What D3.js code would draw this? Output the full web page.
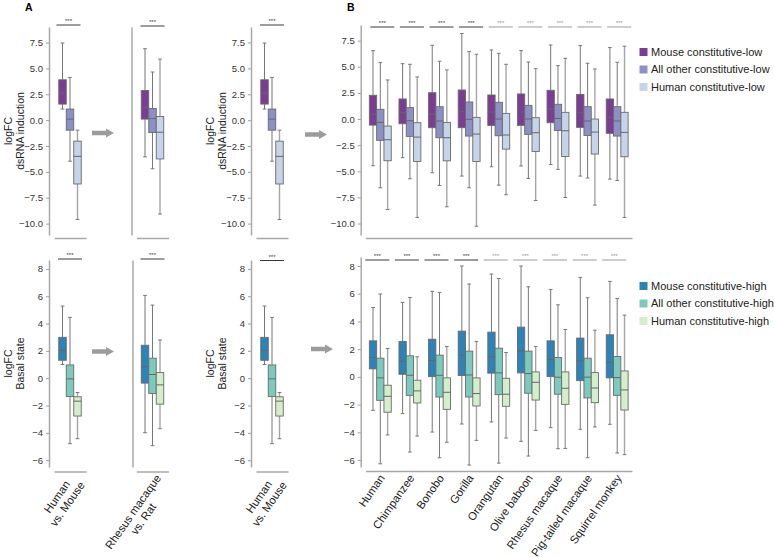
<!DOCTYPE html>
<html><head><meta charset="utf-8">
<script src="https://cdn.jsdelivr.net/npm/d3@7"></script>
<style>
body{margin:0;background:#fff;}
svg{font-family:"Liberation Sans",Arial,sans-serif;}
</style></head>
<body><svg id="c" width="774" height="557"></svg>
<script>
// ---------------- data ----------------
const hueLow = ["Mouse constitutive-low", "All other constitutive-low", "Human constitutive-low"];
const hueHigh = ["Mouse constitutive-high", "All other constitutive-high", "Human constitutive-high"];
const colorsLow = ["#7c3c94", "#8d90c4", "#c5d4e8"];
const colorsHigh = ["#2d82b7", "#7ccabd", "#d4eecb"];
const pairA1 = ["Human\nvs. Mouse"];
const pairA2 = ["Rhesus macaque\nvs. Rat"];
const speciesB = ["Human", "Chimpanzee", "Bonobo", "Gorilla", "Orangutan", "Olive baboon", "Rhesus macaque", "Pig-tailed macaque", "Squirrel monkey"];
const ticksTop = [7.5, 5.0, 2.5, 0.0, -2.5, -5.0, -7.5, -10.0];
const ticksBottom = [8, 6, 4, 2, 0, -2, -4, -6];
const sigLabel = "***";

// box stats: [lower whisker, q1, median, q3, upper whisker]
const dsHumanMouse = [[[1.07, 1.55, 2.6, 3.9, 7.45], [-3.97, -0.97, 0.1, 1.07, 4.13], [-9.6, -6.17, -3.5, -2.03, -0.97]]];
const dsRhesusRat = [[[-3.55, 0.1, 1.2, 2.87, 6.9], [-4.7, -1.2, 0.15, 1.12, 4.65], [-9.08, -3.75, -1.17, 0.35, 5.9]]];
const dsSpecies = [
  [[-4.47, -0.58, 0.45, 2.27, 6.55], [-6.58, -2.04, -0.32, 0.93, 5.4], [-8.66, -3.99, -1.98, -0.67, 3.74]],
  [[-3.7, -0.45, 0.6, 1.92, 5.3], [-5.72, -1.66, -0.16, 1.09, 5.24], [-9.42, -4.06, -1.73, -0.35, 4.03]],
  [[-5.14, -0.83, 0.45, 2.52, 7.06], [-6.36, -1.79, -0.19, 1.18, 5.53], [-8.4, -4.0, -1.79, -0.32, 4.7]],
  [[-5.46, -0.83, 0.7, 2.78, 8.18], [-6.58, -1.63, -0.03, 1.63, 6.45], [-10.26, -4.06, -1.44, 0.16, 6.2]],
  [[-4.57, -0.61, 0.67, 2.3, 6.61], [-6.33, -1.6, 0.0, 1.6, 6.29], [-7.25, -2.88, -1.53, 0.54, 5.24]],
  [[-4.5, -0.61, 0.67, 2.4, 6.55], [-5.69, -1.47, 0.0, 1.31, 5.46], [-7.8, -3.1, -1.31, 0.13, 4.82]],
  [[-4.35, -0.35, 0.96, 2.75, 7.09], [-4.82, -1.09, 0.06, 1.41, 5.11], [-7.51, -3.58, -1.12, 0.64, 5.81]],
  [[-5.46, -0.8, 0.6, 2.36, 7.03], [-5.65, -1.57, -0.19, 1.18, 5.34], [-8.24, -3.35, -1.25, 0.0, 4.79]],
  [[-5.75, -1.37, 0.16, 1.92, 6.84], [-5.88, -1.63, -0.19, 1.18, 5.43], [-9.42, -3.61, -1.28, 0.64, 6.97]]
];
const basalHumanMouse = [[[1.0, 1.31, 2.04, 2.99, 5.28], [-4.79, -1.34, -0.05, 0.97, 4.45], [-4.43, -2.77, -1.68, -1.36, -1.05]]];
const basalRhesusRat = [[[-3.99, -0.36, 0.85, 2.41, 6.06], [-4.94, -1.12, 0.27, 1.46, 5.35], [-3.7, -1.9, -0.49, 0.41, 2.8]]];
const basalSpecies = [
  [[-2.41, 0.58, 1.4, 2.6, 5.01], [-6.27, -1.69, -0.07, 1.35, 5.98], [-4.19, -2.55, -1.4, -0.6, 2.05]],
  [[-2.65, 0.19, 1.13, 2.55, 5.37], [-5.42, -1.33, 0.12, 1.52, 5.73], [-4.27, -1.88, -1.01, -0.24, 1.45]],
  [[-3.98, 0.02, 1.2, 2.72, 6.17], [-5.83, -1.45, 0.12, 1.57, 6.1], [-4.72, -2.34, -1.11, -0.07, 2.19]],
  [[-3.4, 0.1, 1.57, 3.3, 8.0], [-6.36, -1.45, 0.14, 1.86, 6.7], [-4.58, -2.1, -1.2, -0.07, 2.55]],
  [[-3.25, 0.27, 1.45, 3.23, 7.42], [-6.22, -1.28, 0.29, 2.07, 7.1], [-4.41, -2.12, -1.25, -0.1, 1.76]],
  [[-4.65, 0.29, 1.88, 3.59, 8.0], [-5.71, -1.18, 0.24, 1.86, 6.5], [-3.86, -1.67, -0.39, 0.36, 2.19]],
  [[-3.66, 0.02, 1.25, 2.6, 6.31], [-5.18, -1.25, -0.02, 1.4, 5.2], [-5.16, -1.98, -0.82, 0.36, 3.42]],
  [[-3.78, -0.27, 1.16, 2.8, 7.18], [-5.83, -1.52, -0.02, 1.35, 5.71], [-3.61, -1.86, -0.8, 0.31, 3.37]],
  [[-3.42, -0.07, 1.04, 3.04, 6.89], [-5.49, -1.33, -0.05, 1.47, 5.66], [-5.61, -2.39, -0.94, 0.43, 4.46]]
];

// ---------------- drawing ----------------
const svg = d3.select("#c");
const FONT = '"Liberation Sans",Arial,sans-serif';
const AXIS_COLOR = "#a9a9a9";

function panel(opt) {
  const g = svg.append("g");
  const x = d3.scaleBand().domain(opt.cats).range(opt.xr).paddingInner(0).paddingOuter(0);
  const y = d3.scaleLinear().domain(opt.yd).range(opt.yr);
  const hue = d3.scaleBand().domain(opt.hues).range([-1.5 * opt.bw, 1.5 * opt.bw]);
  // y axis
  const ax = d3.axisLeft(y).tickValues(opt.ticks ? opt.ticks : []).tickSize(opt.ticks ? 3 : 0)
    .tickSizeOuter(0).tickPadding(3).tickFormat(opt.fmt);
  const ag = g.append("g").attr("transform", `translate(${opt.yAxisX},0)`).call(ax);
  ag.select(".domain").attr("stroke", AXIS_COLOR).attr("stroke-width", 1.5);
  ag.selectAll(".tick line").attr("stroke", "#888").attr("stroke-width", 0.8);
  ag.selectAll(".tick text").attr("font-size", 9.5).attr("font-family", FONT).attr("fill", "#333");
  // x axis line (offset)
  const xa = d3.axisBottom(x).tickSize(0).tickSizeOuter(0).tickFormat("");
  const xg = g.append("g").attr("transform", `translate(0,${opt.yr[0] + opt.xOff})`).call(xa);
  xg.select(".domain").attr("stroke", AXIS_COLOR).attr("stroke-width", 1.5);
  // boxes
  opt.data.forEach((grp, gi) => {
    const cat = opt.cats[gi];
    const c = x(cat) + x.bandwidth() / 2;
    grp.forEach((s, hi) => {
      const cx = c + hue(opt.hues[hi]) + hue.bandwidth() / 2;
      const bw = opt.bw;
      const bg = g.append("g");
      const wc = hi === 2 ? "#a5a5a5" : "#777";
      bg.append("line").attr("x1", cx).attr("x2", cx).attr("y1", y(s[4])).attr("y2", y(s[3]))
        .attr("stroke", wc).attr("stroke-width", hi === 2 ? 1.4 : 1);
      bg.append("line").attr("x1", cx).attr("x2", cx).attr("y1", y(s[1])).attr("y2", y(s[0]))
        .attr("stroke", wc).attr("stroke-width", hi === 2 ? 1.4 : 1);
      [s[0], s[4]].forEach(v => bg.append("line").attr("x1", cx - bw / 4).attr("x2", cx + bw / 4)
        .attr("y1", y(v)).attr("y2", y(v)).attr("stroke", "#777").attr("stroke-width", 1));
      bg.append("rect").attr("x", cx - bw / 2).attr("width", bw).attr("y", y(s[3]))
        .attr("height", y(s[1]) - y(s[3])).attr("fill", opt.colors[hi])
        .attr("stroke", "#6a6a6a").attr("stroke-width", 0.9);
      bg.append("line").attr("x1", cx - bw / 2).attr("x2", cx + bw / 2).attr("y1", y(s[2])).attr("y2", y(s[2]))
        .attr("stroke", "#666").attr("stroke-width", 1);
    });
    // significance bar
    const dark = opt.sigDark ? opt.sigDark(gi) : true;
    const sc = dark ? "#3a3a3a" : "#9a9a9a";
    const sx = c + opt.sigShift;
    g.append("line").attr("x1", sx - 12).attr("x2", sx + 12).attr("y1", opt.sigY).attr("y2", opt.sigY)
      .attr("stroke", sc).attr("stroke-width", 1);
    g.append("text").attr("x", sx).attr("y", opt.sigY - 2).attr("text-anchor", "middle")
      .attr("font-size", 6).attr("font-family", FONT).attr("fill", sc).text(sigLabel);
  });
  // x labels
  if (opt.xLabels) {
    opt.cats.forEach(cat => {
      const c = x(cat) + x.bandwidth() / 2;
      const lg = g.append("g").attr("transform", `translate(${c + opt.labShift},${opt.labY}) rotate(-55)`);
      const lines = cat.split("\n");
      const ts = lines.map((ln, i) => lg.append("text").attr("font-size", 11.3).attr("font-family", FONT)
        .attr("fill", "#222").attr("y", i * 12.5).attr("text-anchor", "middle").text(ln));
      const W = d3.max(ts, t => t.node().getComputedTextLength());
      ts.forEach(t => t.attr("x", -W / 2));
    });
  }
  // y label
  if (opt.yLabel) {
    const cy = (opt.yr[0] + opt.yr[1]) / 2;
    const lg = g.append("g").attr("transform", `translate(${opt.yAxisX - 25},${cy}) rotate(-90)`);
    opt.yLabel.forEach((ln, i) => lg.append("text").attr("text-anchor", "middle")
      .attr("y", (i - opt.yLabel.length + 1) * 12).attr("font-size", 10.5).attr("font-family", FONT)
      .attr("fill", "#222").text(ln));
  }
  return {x, y};
}

const fmtTop = d3.format(".1f");
const fmtBot = d3.format("d");
const topD = [-11.1, 9.0], botD = [-6.5, 8.65];

// Top row
panel({cats: pairA1, hues: hueLow, colors: colorsLow, data: dsHumanMouse, xr: [54, 86], yd: topD, yr: [235, 27],
  yAxisX: 49, ticks: ticksTop, fmt: fmtTop, bw: 7.5, xOff: 3, sigY: 25, sigShift: -1.5, yLabel: ["logFC", "dsRNA induction"]});
panel({cats: pairA2, hues: hueLow, colors: colorsLow, data: dsRhesusRat, xr: [136.5, 168.5], yd: topD, yr: [235, 27],
  yAxisX: 131.5, ticks: null, fmt: fmtTop, bw: 7.5, xOff: 3, sigY: 26, sigShift: 0});
panel({cats: pairA1, hues: hueLow, colors: colorsLow, data: dsHumanMouse, xr: [256, 288], yd: topD, yr: [235, 27],
  yAxisX: 251, ticks: ticksTop, fmt: fmtTop, bw: 7.5, xOff: 3, sigY: 25, sigShift: 0, yLabel: ["logFC", "dsRNA induction"]});
panel({cats: speciesB, hues: hueLow, colors: colorsLow, data: dsSpecies, xr: [365.5, 632], yd: topD, yr: [235, 25],
  yAxisX: 360.7, ticks: ticksTop, fmt: fmtTop, bw: 7.3, xOff: 3, sigY: 27, sigShift: 2, sigDark: i => i < 4});

// Bottom row
panel({cats: pairA1, hues: hueHigh, colors: colorsHigh, data: basalHumanMouse, xr: [54, 86], yd: botD, yr: [467, 260],
  yAxisX: 49, ticks: ticksBottom, fmt: fmtBot, bw: 7.5, xOff: 4.5, sigY: 259, sigShift: 0, yLabel: ["logFC", "Basal state"],
  xLabels: true, labShift: 5, labY: 478});
panel({cats: pairA2, hues: hueHigh, colors: colorsHigh, data: basalRhesusRat, xr: [136.5, 168.5], yd: botD, yr: [467, 260],
  yAxisX: 132.5, ticks: null, fmt: fmtBot, bw: 7.5, xOff: 4.5, sigY: 259, sigShift: 0, xLabels: true, labShift: 9, labY: 478});
panel({cats: pairA1, hues: hueHigh, colors: colorsHigh, data: basalHumanMouse, xr: [256, 288], yd: botD, yr: [467, 260],
  yAxisX: 251, ticks: ticksBottom, fmt: fmtBot, bw: 7.5, xOff: 4.5, sigY: 260.5, sigShift: 0, yLabel: ["logFC", "Basal state"],
  xLabels: true, labShift: 5, labY: 478});
panel({cats: speciesB, hues: hueHigh, colors: colorsHigh, data: basalSpecies, xr: [365.5, 632], yd: botD, yr: [467, 257],
  yAxisX: 360.7, ticks: ticksBottom, fmt: fmtBot, bw: 7.3, xOff: 4, sigY: 260, sigShift: -3, sigDark: i => i < 4,
  xLabels: true, labShift: 5, labY: 478});

// Legends
function legend(names, colors, x0, ys) {
  const lg = svg.append("g");
  names.forEach((n, i) => {
    lg.append("rect").attr("x", x0).attr("y", ys[i] - 4).attr("width", 8).attr("height", 8).attr("fill", colors[i]);
    lg.append("text").attr("x", x0 + 11.5).attr("y", ys[i]).attr("dy", "0.35em").attr("font-size", 11)
      .attr("font-family", FONT).attr("fill", "#222").text(n);
  });
}
legend(hueLow, colorsLow, 639.5, [52, 69.5, 87]);
legend(hueHigh, colorsHigh, 639.5, [286, 303.5, 321]);

// Arrows
function arrow(x0, x1, cy) {
  const hs = 8;
  svg.append("path").attr("fill", "#9c9c9c")
    .attr("d", `M${x0},${cy - 2.2}L${x1 - hs},${cy - 2.2}L${x1 - hs},${cy - 4.6}L${x1},${cy}L${x1 - hs},${cy + 4.6}L${x1 - hs},${cy + 2.2}L${x0},${cy + 2.2}Z`);
}
arrow(92, 114, 133);
arrow(92, 114, 351.5);
arrow(305, 327, 134.5);
arrow(311, 333, 349);

// Panel letters
svg.append("text").attr("x", 25).attr("y", 11).attr("font-size", 10.5).attr("font-weight", "bold")
  .attr("font-family", FONT).text("A");
svg.append("text").attr("x", 347).attr("y", 11).attr("font-size", 10.5).attr("font-weight", "bold")
  .attr("font-family", FONT).text("B");
</script>
</body></html>
